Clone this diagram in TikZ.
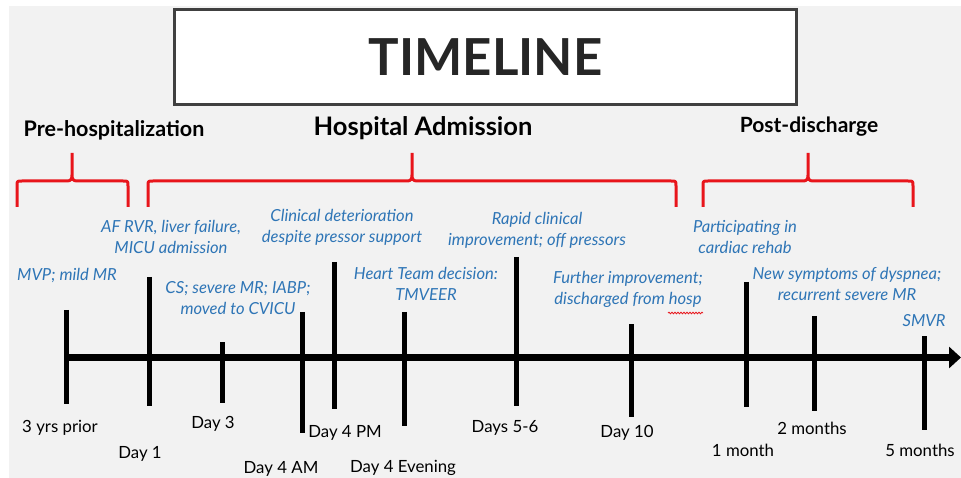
\documentclass[tikz,border=0pt]{standalone}
\usepackage{fontspec}
\setmainfont{Lato}
\usetikzlibrary{arrows.meta,decorations.pathmorphing}

\definecolor{evblue}{HTML}{2E75B6}
\definecolor{bracered}{HTML}{E8151B}
\definecolor{bggray}{HTML}{F2F2F2}
\definecolor{framegray}{HTML}{404040}
\definecolor{titletext}{HTML}{262626}

\begin{document}
\begin{tikzpicture}[x=1pt,y=-1pt,
	tickmark/.style={line width=5pt},
	redbrace/.style={draw=bracered, line width=3pt, line join=round},
	event/.style={text=evblue, font=\fontsize{16.6}{21}\selectfont\itshape, align=center, inner sep=0pt},
	datelab/.style={font=\fontsize{16.8}{20}\selectfont, inner sep=0pt},
	phase/.style={font=\fontsize{21.5}{25}\selectfont\bfseries, inner sep=0pt}]
		\useasboundingbox (0,0) rectangle (961,478);
		\fill[white] (0,0) rectangle (961,478);
		\fill[bggray] (9,6) rectangle (961,478);
		% title
		\node[draw=framegray, line width=3pt, fill=white, minimum width=622pt, minimum height=95pt,
			text=titletext, font=\fontsize{51}{57}\selectfont\bfseries] (title) at (485.5,57) {TIMELINE};
		% phases
		\node[phase] (pre) at (114,130) {Pre-hospitalization};
		\node[phase, font=\fontsize{25.5}{29}\selectfont\bfseries] (adm) at (423,128) {Hospital Admission};
		\node[phase, font=\fontsize{21}{25}\selectfont\bfseries] (post) at (809,127) {Post-discharge};
		\foreach \xa/\xt/\xb in {17/72/128, 148/412/676, 703/808/913}
			\draw[redbrace] (\xa,207) -- (\xa,186) .. controls (\xa,181) .. (\xa+5,181) -- (\xt-5,181)
				.. controls (\xt-1,181) and (\xt,179) .. (\xt,175) -- (\xt,153)
				(\xt,175) .. controls (\xt,179) and (\xt+1,181) .. (\xt+5,181) -- (\xb-5,181)
				.. controls (\xb,181) .. (\xb,186) -- (\xb,207);
		% axis and ticks
		\draw[line width=6.5pt, -{Triangle[length=12pt,width=21pt]}] (64,357.5) -- (961,357.5);
		\foreach \x/\ya/\yb in {66/310/404, 149/277/406, 222/342/403, 302/312/433, 334/262/409, 404/312/426,
			516/257/406, 631/324/417, 746/282/407, 814/316/411, 924/336/430}
			\draw[tickmark] (\x,\ya) -- (\x,\yb);
		% dates
		\foreach \x/\y/\t/\n in {60/428/3 yrs prior/prior, 140/454/Day 1/d1, 213/424/Day 3/d3, 281/469/Day 4 AM/d4am,
			345/433/Day 4 PM/d4pm, 403/468/Day 4 Evening/d4ev, 505/428/Days 5-6/d56, 627/433/Day 10/d10,
			743/450/1 month/m1, 812/428/2 months/m2, 920/450/5 months/m5}
			\node[datelab] (\n) at (\x,\y) {\t};
		% events
		\node[event] (mvp) at (67,276) {MVP; mild MR};
		\node[event] (afrvr) at (171,237) {AF RVR, liver failure,\\MICU admission};
		\node[event] (cs) at (238,298) {CS; severe MR; IABP;\\moved to CVICU};
		\node[event] (clin) at (342,227) {Clinical deterioration\\despite pressor support};
		\node[event] (heart) at (426,284) {Heart Team decision:\\TMVEER};
		\node[event] (rapid) at (537,230) {Rapid clinical\\improvement; off pressors};
		\node[event] (further) at (628,289) {Further improvement;\\discharged from hosp};
		\node[event] (rehab) at (745,237) {Participating in\\cardiac rehab};
		\node[event] (dysp) at (847,284) {New symptoms of dyspnea;\\recurrent severe MR};
		\node[event] (smvr) at (924,321) {SMVR};
		\draw[bracered, line width=0.8pt, decorate, decoration={snake, amplitude=0.8pt, segment length=3pt}]
			(668,313) -- (703,313);
	\end{tikzpicture}
\end{document}
